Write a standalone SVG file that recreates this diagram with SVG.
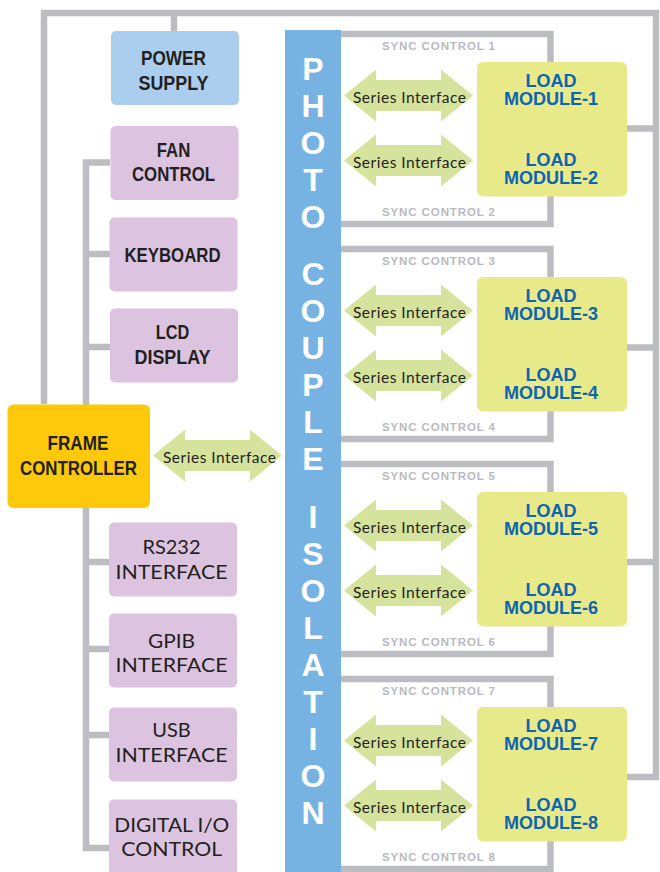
<svg xmlns="http://www.w3.org/2000/svg" width="660" height="872" viewBox="0 0 660 872">
<style>
.ln{fill:none;stroke:#bcbdc0;stroke-width:6.5;stroke-linejoin:miter;stroke-linecap:butt}
.pb{fill:#dcc4e0}
.bt{font-family:"Liberation Sans",Arial,sans-serif;font-weight:bold;font-size:20.5px;fill:#231f20;text-anchor:middle}
.rt{font-family:Lato,"Liberation Sans",sans-serif;font-size:19.5px;fill:#231f20;text-anchor:middle}
.lm{fill:#e8ea89}
.lt{font-family:"Liberation Sans",Arial,sans-serif;font-weight:bold;font-size:18px;fill:#0c64b2;text-anchor:middle}
.ar{fill:#d6e39c}
.st{font-family:Lato,"Liberation Sans",sans-serif;font-size:15.5px;fill:#231f20;text-anchor:middle}
.sy{font-family:"Liberation Sans",Arial,sans-serif;font-weight:bold;font-size:11.5px;fill:#b9babd}
.pc{font-family:"Liberation Sans",Arial,sans-serif;font-weight:bold;font-size:32px;fill:#ffffff;text-anchor:middle}
</style>
<defs>
<path id="dar" d="M-64.5,0 L-32.5,-26 L-32.5,-15.5 L32.5,-15.5 L32.5,-26 L64.5,0 L32.5,26 L32.5,15.5 L-32.5,15.5 L-32.5,26 Z"/>
</defs>

<g id="connectors">
<path class="ln" d="M44,404 V13 H656 V777 H627"/>
<path class="ln" d="M174,13 V31"/>
<path class="ln" d="M627,128.5 H656 M627,347.5 H656 M627,562 H656"/>
<path class="ln" d="M110,162.5 H86 V848 H110 M86,254 H110 M86,347 H110 M86,562 H110 M86,649 H110 M86,735 H110"/>
<path class="ln" d="M341,34 H550.5 V62 M550.5,196 V224 H341"/>
<path class="ln" d="M341,249 H550.5 V277 M550.5,411 V439 H341"/>
<path class="ln" d="M341,464 H550.5 V492 M550.5,626 V654 H341"/>
<path class="ln" d="M341,679 H550.5 V707 M550.5,841 V869 H341"/>
</g>

<g id="sync-labels">
<text class="sy" x="382" y="50" textLength="113">SYNC CONTROL 1</text>
<text class="sy" x="382" y="216" textLength="113">SYNC CONTROL 2</text>
<text class="sy" x="382" y="265" textLength="113">SYNC CONTROL 3</text>
<text class="sy" x="382" y="431" textLength="113">SYNC CONTROL 4</text>
<text class="sy" x="382" y="480" textLength="113">SYNC CONTROL 5</text>
<text class="sy" x="382" y="646" textLength="113">SYNC CONTROL 6</text>
<text class="sy" x="382" y="695" textLength="113">SYNC CONTROL 7</text>
<text class="sy" x="382" y="861" textLength="113">SYNC CONTROL 8</text>
</g>

<g id="power-supply">
<rect x="111" y="31" width="128" height="74" rx="5" fill="#abcdee"/>
<text class="bt" x="173.5" y="65" textLength="65" lengthAdjust="spacingAndGlyphs">POWER</text>
<text class="bt" x="173.5" y="89.5" textLength="70" lengthAdjust="spacingAndGlyphs">SUPPLY</text>
</g>
<g id="fan-control">
<rect class="pb" x="110.5" y="126" width="128" height="74" rx="5"/>
<text class="bt" x="173.5" y="156.5" textLength="33.5" lengthAdjust="spacingAndGlyphs">FAN</text>
<text class="bt" x="173.5" y="181" textLength="83" lengthAdjust="spacingAndGlyphs">CONTROL</text>
</g>
<g id="keyboard">
<rect class="pb" x="109.5" y="217.5" width="128" height="74" rx="5"/>
<text class="bt" x="172.5" y="261.5" textLength="96" lengthAdjust="spacingAndGlyphs">KEYBOARD</text>
</g>
<g id="lcd-display">
<rect class="pb" x="110" y="308.5" width="128" height="74" rx="5"/>
<text class="bt" x="172.5" y="338.5" textLength="33.5" lengthAdjust="spacingAndGlyphs">LCD</text>
<text class="bt" x="172.5" y="364" textLength="76" lengthAdjust="spacingAndGlyphs">DISPLAY</text>
</g>
<g id="frame-controller">
<rect x="7.5" y="404.5" width="142.5" height="103.5" rx="6" fill="#ffc90b"/>
<text class="bt" x="78" y="450" textLength="61" lengthAdjust="spacingAndGlyphs">FRAME</text>
<text class="bt" x="78.5" y="475" textLength="117" lengthAdjust="spacingAndGlyphs">CONTROLLER</text>
</g>
<g id="rs232-interface">
<rect class="pb" x="109" y="522.5" width="128" height="74" rx="5"/>
<text class="rt" x="171.5" y="554" textLength="58" lengthAdjust="spacingAndGlyphs">RS232</text>
<text class="rt" x="171.5" y="579" textLength="112" lengthAdjust="spacingAndGlyphs">INTERFACE</text>
</g>
<g id="gpib-interface">
<rect class="pb" x="109" y="613.5" width="128" height="74" rx="5"/>
<text class="rt" x="171.5" y="647.5" textLength="47" lengthAdjust="spacingAndGlyphs">GPIB</text>
<text class="rt" x="171.5" y="671.5" textLength="112" lengthAdjust="spacingAndGlyphs">INTERFACE</text>
</g>
<g id="usb-interface">
<rect class="pb" x="109" y="707.5" width="128" height="74" rx="5"/>
<text class="rt" x="171.5" y="736.5" textLength="38.5" lengthAdjust="spacingAndGlyphs">USB</text>
<text class="rt" x="171.5" y="761.5" textLength="112" lengthAdjust="spacingAndGlyphs">INTERFACE</text>
</g>
<g id="digital-io-control">
<rect class="pb" x="109" y="799.5" width="128" height="80" rx="5"/>
<text class="rt" x="171.8" y="831.5" textLength="115" lengthAdjust="spacingAndGlyphs">DIGITAL I/O</text>
<text class="rt" x="171.8" y="856" textLength="101" lengthAdjust="spacingAndGlyphs">CONTROL</text>
</g>

<g id="photo-couple-isolation">
<rect x="285" y="30" width="56" height="842" fill="#77b3e2"/>
<text class="pc" x="313" y="79.5">P</text>
<text class="pc" x="313" y="116.5">H</text>
<text class="pc" x="313" y="153.5">O</text>
<text class="pc" x="313" y="190.5">T</text>
<text class="pc" x="313" y="227.5">O</text>
<text class="pc" x="313" y="285">C</text>
<text class="pc" x="313" y="322">O</text>
<text class="pc" x="313" y="359">U</text>
<text class="pc" x="313" y="396">P</text>
<text class="pc" x="313" y="433">L</text>
<text class="pc" x="313" y="470">E</text>
<text class="pc" x="313" y="527.5">I</text>
<text class="pc" x="313" y="564.5">S</text>
<text class="pc" x="313" y="601.5">O</text>
<text class="pc" x="313" y="638.5">L</text>
<text class="pc" x="313" y="675.5">A</text>
<text class="pc" x="313" y="712.5">T</text>
<text class="pc" x="313" y="749.5">I</text>
<text class="pc" x="313" y="786.5">O</text>
<text class="pc" x="313" y="823.5">N</text>
</g>

<g id="frame-series-interface">
<use href="#dar" class="ar" transform="translate(217.5,455.5)"/>
<text class="st" x="219.5" y="463" textLength="113" lengthAdjust="spacing">Series Interface</text>
</g>

<g id="series-interfaces">
<use href="#dar" class="ar" transform="translate(408.5,95.5)"/>
<text class="st" x="409.5" y="103" textLength="113" lengthAdjust="spacing">Series Interface</text>
<use href="#dar" class="ar" transform="translate(408.5,160.5)"/>
<text class="st" x="409.5" y="168" textLength="113" lengthAdjust="spacing">Series Interface</text>
<use href="#dar" class="ar" transform="translate(408.5,310.5)"/>
<text class="st" x="409.5" y="318" textLength="113" lengthAdjust="spacing">Series Interface</text>
<use href="#dar" class="ar" transform="translate(408.5,375.5)"/>
<text class="st" x="409.5" y="383" textLength="113" lengthAdjust="spacing">Series Interface</text>
<use href="#dar" class="ar" transform="translate(408.5,525.5)"/>
<text class="st" x="409.5" y="533" textLength="113" lengthAdjust="spacing">Series Interface</text>
<use href="#dar" class="ar" transform="translate(408.5,590.5)"/>
<text class="st" x="409.5" y="598" textLength="113" lengthAdjust="spacing">Series Interface</text>
<use href="#dar" class="ar" transform="translate(408.5,740.5)"/>
<text class="st" x="409.5" y="748" textLength="113" lengthAdjust="spacing">Series Interface</text>
<use href="#dar" class="ar" transform="translate(408.5,805.5)"/>
<text class="st" x="409.5" y="813" textLength="113" lengthAdjust="spacing">Series Interface</text>
</g>

<g id="load-module-1-2">
<rect class="lm" x="477" y="62" width="150" height="134.5" rx="6"/>
<text class="lt" x="551" y="86.5">LOAD</text>
<text class="lt" x="551" y="104.5">MODULE-1</text>
<text class="lt" x="551" y="165.5">LOAD</text>
<text class="lt" x="551" y="183.5">MODULE-2</text>
</g>
<g id="load-module-3-4">
<rect class="lm" x="477" y="277" width="150" height="134.5" rx="6"/>
<text class="lt" x="551" y="301.5">LOAD</text>
<text class="lt" x="551" y="319.5">MODULE-3</text>
<text class="lt" x="551" y="380.5">LOAD</text>
<text class="lt" x="551" y="398.5">MODULE-4</text>
</g>
<g id="load-module-5-6">
<rect class="lm" x="477" y="492" width="150" height="134.5" rx="6"/>
<text class="lt" x="551" y="516.5">LOAD</text>
<text class="lt" x="551" y="534.5">MODULE-5</text>
<text class="lt" x="551" y="595.5">LOAD</text>
<text class="lt" x="551" y="613.5">MODULE-6</text>
</g>
<g id="load-module-7-8">
<rect class="lm" x="477" y="707" width="150" height="134.5" rx="6"/>
<text class="lt" x="551" y="731.5">LOAD</text>
<text class="lt" x="551" y="749.5">MODULE-7</text>
<text class="lt" x="551" y="810.5">LOAD</text>
<text class="lt" x="551" y="828.5">MODULE-8</text>
</g>
</svg>
